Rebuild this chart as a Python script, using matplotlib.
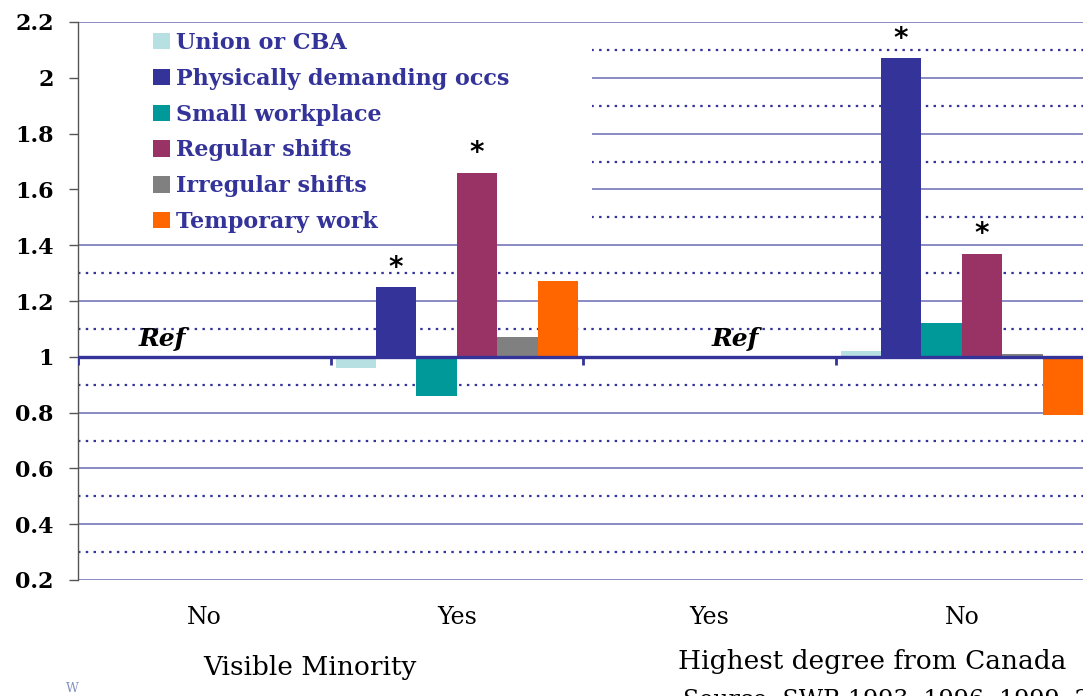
import matplotlib
matplotlib.use("Agg")
import matplotlib.pyplot as plt
import numpy as np
from matplotlib.patches import Rectangle

plt.rcParams['font.family'] = ['DejaVu Serif']

categories = ['No', 'Yes', 'Yes', 'No']
group_titles = ['Visible Minority', 'Highest degree from Canada']
ref_groups = [0, 2]

series_names = ['Union or CBA', 'Physically demanding occs', 'Small workplace',
                'Regular shifts', 'Irregular shifts', 'Temporary work']
series_colors = ['#b7e0e3', '#333399', '#009999', '#993366', '#808080', '#ff6600']

# odds ratios per category (Ref groups = 1)
union = [1.0, 0.96, 1.0, 1.02]
phys = [1.0, 1.25, 1.0, 2.07]
small = [1.0, 0.86, 1.0, 1.12]
regular = [1.0, 1.66, 1.0, 1.37]
irregular = [1.0, 1.07, 1.0, 1.01]
temporary = [1.0, 1.27, 1.0, 0.79]
values = [union, phys, small, regular, irregular, temporary]

# significance stars: series index -> category indexes
stars = {1: [1, 3], 3: [1, 3]}

fig = plt.figure(figsize=(10.83, 6.96), dpi=100)
ax = fig.add_axes([78 / 1083, 1 - 580 / 696, 1010 / 1083, 558 / 696])

ax.set_ylim(0.2, 2.2)
ax.set_xlim(-0.5, 3.5)
ax.set_yticks(np.arange(0.2, 2.21, 0.2))
ax.set_yticks(np.arange(0.3, 2.2, 0.2), minor=True)
ax.set_yticklabels(['0.2', '0.4', '0.6', '0.8', '1', '1.2', '1.4', '1.6', '1.8', '2', '2.2'])
ax.set_axisbelow(True)
ax.grid(which='major', axis='y', color='#6b6bb5', lw=1.1)
ax.grid(which='minor', axis='y', color='#333399', lw=1.6, ls=(0, (1.1, 2.4)))
ax.tick_params(axis='y', which='major', length=6.5, width=1, color='#555555',
               pad=11, labelsize=16)
ax.tick_params(axis='y', which='minor', length=0)
for lab in ax.get_yticklabels():
    lab.set_fontweight('bold')

ax.set_xticks(range(len(categories)), categories)
ax.tick_params(axis='x', length=0, pad=19, labelsize=17)

for s in ['top', 'right', 'bottom']:
    ax.spines[s].set_visible(False)
ax.spines['left'].set_color('#555555')
ax.spines['left'].set_linewidth(1)

# white legend background hides the gridlines behind it
ax.add_patch(Rectangle((-0.5, 1.42), 514 / 252.5, 0.75, facecolor='white',
                       edgecolor='none', zorder=1))

width = 0.16
x = np.arange(len(categories))
for i, (vals, col) in enumerate(zip(values, series_colors)):
    vals = np.array(vals)
    ax.bar(x + (i - 2.5) * width, vals - 1, bottom=1, width=width,
           color=col, zorder=2, label=series_names[i])
    for g in stars.get(i, []):
        ax.annotate('*', (x[g] + (i - 2.5) * width, vals[g]), xytext=(0, 14),
                    textcoords='offset points', ha='center', va='center',
                    fontsize=20, fontweight='bold', family='DejaVu Sans')

ax.axhline(1, color='#333399', lw=2.4, zorder=3)
ax.vlines(np.arange(-0.5, 3.6, 1), 0.97, 1, color='#333399', lw=2, zorder=3)

ax.text(-0.167, 1.039, 'Ref', ha='center', va='baseline', fontsize=18,
        fontweight='bold', fontstyle='italic')
ax.text(2.104, 1.039, 'Ref', ha='center', va='baseline', fontsize=18,
        fontweight='bold', fontstyle='italic')

ax.legend(loc='upper left', bbox_to_anchor=(153 / 1083, 1 - 32 / 696),
          bbox_transform=fig.transFigure, frameon=False, borderpad=0,
          borderaxespad=0, handlelength=0.75, handleheight=0.75,
          handletextpad=0.3, labelspacing=0.62,
          prop={'size': 16, 'weight': 'bold'}, labelcolor='#333399')

fig.text(310 / 1083, 1 - 668 / 696, group_titles[0], ha='center', va='center', fontsize=19)
fig.text(872 / 1083, 1 - 662 / 696, group_titles[1], ha='center', va='center', fontsize=19)
fig.text(683 / 1083, 1 - 689 / 696, 'Source: SWB 1993, 1996, 1999, 2002, 2005',
         ha='left', va='top', fontsize=17)
fig.text(66 / 1083, 1 - 689 / 696, 'W', ha='left', va='center', fontsize=9,
         color='#7f8fc0')

fig.savefig('out.png', dpi=100)
